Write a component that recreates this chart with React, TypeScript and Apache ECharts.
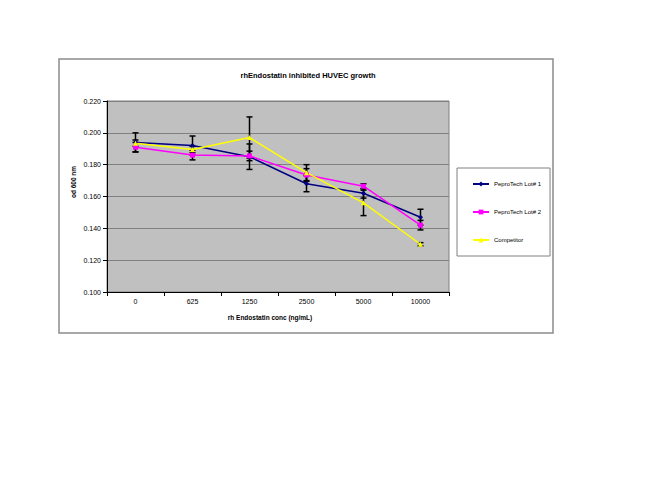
import React, { useEffect, useRef } from "react";
import * as echarts from "echarts";

const categories = ["0", "625", "1250", "2500", "5000", "10000"];
const lot1 = [0.194, 0.192, 0.185, 0.168, 0.162, 0.147];
const lot2 = [0.191, 0.186, 0.1855, 0.1735, 0.1665, 0.142];
const competitor = [0.1935, 0.1895, 0.197, 0.175, 0.156, 0.130];
const lot1Err = [0.006, 0.006, 0.008, 0.005, 0.003, 0.005];
const lot2Err = [0.003, 0.003, 0.003, 0.004, 0.0015, 0.003];
const compErr = [0.002, 0.002, 0.013, 0.005, 0.008, 0.001];
const seriesNames = ["PeproTech Lot# 1", "PeproTech Lot# 2", "Competitor"];
const seriesColors = ["#000080", "#ff00ff", "#ffff00"];

const FONT = "Arial, 'Liberation Sans', sans-serif";

function errData(vals: number[], errs: number[]) {
  return vals.map((v, i) => [i, v, errs[i]]);
}

const errRender = (params: any, api: any) => {
  const x = api.value(0);
  const y = api.value(1);
  const e = api.value(2);
  const top = api.coord([x, y + e]);
  const bot = api.coord([x, y - e]);
  const w = 3;
  const style = { stroke: "#000000", lineWidth: 1.5 };
  return {
    type: "group",
    children: [
      { type: "line", shape: { x1: top[0], y1: top[1], x2: bot[0], y2: bot[1] }, style },
      { type: "line", shape: { x1: top[0] - w, y1: top[1], x2: top[0] + w, y2: top[1] }, style },
      { type: "line", shape: { x1: bot[0] - w, y1: bot[1], x2: bot[0] + w, y2: bot[1] }, style },
    ],
  };
};

export default function App() {
  const ref = useRef<HTMLDivElement>(null);
  useEffect(() => {
    if (!ref.current) return;
    const chart = echarts.init(ref.current, null, { renderer: "svg" });
    const lineSeries = [lot1, lot2, competitor].map((d, i) => ({
      name: seriesNames[i],
      type: "line",
      data: d,
      color: seriesColors[i],
      symbol: ["diamond", "rect", "triangle"][i],
      symbolSize: 5,
      lineStyle: { width: 1.5, color: seriesColors[i] },
      itemStyle: { color: seriesColors[i] },
      z: 3,
    }));
    const errSeries = [
      [lot1, lot1Err],
      [lot2, lot2Err],
      [competitor, compErr],
    ].map(([v, e], i) => ({
      type: "custom",
      name: "err" + i,
      renderItem: errRender,
      data: errData(v as number[], e as number[]),
      encode: { x: 0, y: 1 },
      z: 2,
    }));
    chart.setOption({
      animation: false,
      backgroundColor: "#ffffff",
      title: {
        text: "rhEndostatin inhibited HUVEC growth",
        left: 303,
        top: 66,
        textAlign: "center",
        textStyle: { fontFamily: FONT, fontSize: 7.5, fontWeight: "bold", color: "#000" },
      },
      grid: {
        left: 107,
        top: 101,
        width: 342,
        height: 191,
        show: true,
        backgroundColor: "#c0c0c0",
        borderColor: "#808080",
        borderWidth: 1,
      },
      legend: {
        data: seriesNames,
        orient: "vertical",
        left: 457,
        top: 168,
        padding: [13, 9, 13, 15],
        itemGap: 22,
        itemWidth: 16,
        itemHeight: 6,
        backgroundColor: "#ffffff",
        borderColor: "#808080",
        borderWidth: 1,
        textStyle: { fontFamily: FONT, fontSize: 6, color: "#000" },
      },
      xAxis: {
        type: "category",
        data: categories,
        boundaryGap: true,
        axisLine: { lineStyle: { color: "#000", width: 1 } },
        axisTick: { show: true, length: 4, lineStyle: { color: "#000" } },
        axisLabel: { fontFamily: FONT, fontSize: 7, color: "#000", margin: 6 },
        splitLine: { show: false },
      },
      yAxis: {
        type: "value",
        min: 0.1,
        max: 0.22,
        interval: 0.02,
        axisLine: { show: true, lineStyle: { color: "#000", width: 1 } },
        axisTick: { show: true, length: 4, lineStyle: { color: "#000" } },
        axisLabel: {
          fontFamily: FONT,
          fontSize: 7,
          color: "#000",
          margin: 6,
          formatter: (v: number) => v.toFixed(3),
        },
        splitLine: { show: true, lineStyle: { color: "#808080", width: 1.2 } },
      },
      graphic: [
        {
          type: "rect",
          shape: { x: 59, y: 59, width: 494, height: 274 },
          style: { fill: "none", stroke: "#8c8c8c", lineWidth: 1.5 },
          z: -1,
          silent: true,
        },
        {
          type: "text",
          x: 73,
          y: 182,
          rotation: Math.PI / 2,
          style: {
            text: "od 600 nm",
            fontFamily: FONT,
            fontSize: 6.5,
            fontWeight: "bold",
            fill: "#000",
            align: "center",
            verticalAlign: "middle",
          },
        },
        {
          type: "text",
          x: 270,
          y: 317,
          style: {
            text: "rh Endostatin conc (ng/mL)",
            fontFamily: FONT,
            fontSize: 6.5,
            fontWeight: "bold",
            fill: "#000",
            align: "center",
            verticalAlign: "middle",
          },
        },
      ],
      series: [...errSeries, ...lineSeries],
    });
    return () => chart.dispose();
  }, []);
  return (
    <div
      ref={ref}
      style={{ position: "absolute", left: 0, top: 0, width: 650, height: 502, background: "#fff" }}
    />
  );
}
